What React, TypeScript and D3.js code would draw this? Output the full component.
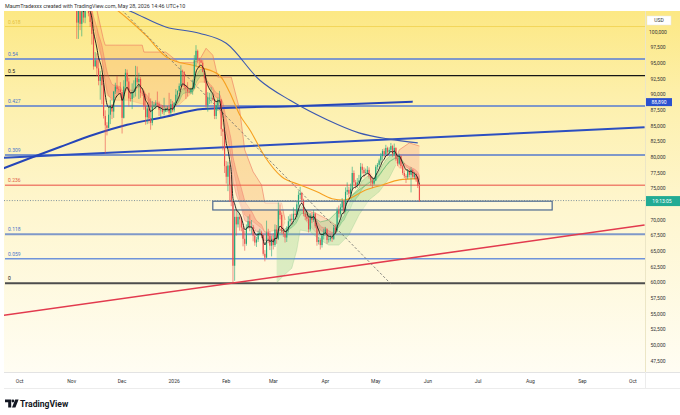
import * as d3 from "d3";

// prices are in thousands of USD
const firstOpen = 110.5;

// daily candles: [high, low, close]; the open is the previous close
const nov: [number, number, number][] = [
  [110.7, 105.3, 106.5], [106.6, 98.9, 101.5], [104.5, 98.9, 103.9], [104.2, 100.3, 101.3], [104.0, 99.3, 103.3],
  [103.4, 101.5, 102.3], [105.0, 101.4, 104.7], [106.6, 104.3, 106.0], [107.5, 102.5, 103.0], [105.3, 100.8, 101.6],
  [104.0, 98.0, 99.7], [99.8, 94.0, 94.5], [96.8, 94.5, 95.5], [96.6, 93.0, 94.2], [96.0, 91.5, 92.2],
  [93.8, 89.2, 92.9], [93.2, 88.5, 91.5], [93.0, 86.2, 86.6], [87.5, 80.6, 85.1], [85.6, 83.5, 84.7],
  [88.0, 84.6, 86.8], [89.2, 85.3, 88.3], [88.5, 86.1, 87.3], [90.6, 86.3, 90.5], [91.9, 90.1, 91.3],
  [93.0, 90.2, 90.9], [91.2, 90.3, 90.8], [92.0, 90.3, 90.4],
];
const dec: [number, number, number][] = [
  [90.4, 83.8, 86.3], [92.3, 86.2, 91.3], [94.1, 91.0, 93.5], [94.0, 91.0, 92.1], [92.7, 88.1, 89.4],
  [90.3, 88.9, 89.3], [91.8, 87.7, 90.4], [92.3, 89.5, 90.6], [94.6, 89.7, 92.7], [94.5, 91.6, 92.0],
  [93.5, 89.3, 92.5], [92.8, 89.5, 90.3], [90.6, 89.8, 90.2], [90.4, 87.6, 88.2], [90.1, 85.2, 86.4],
  [88.2, 85.3, 87.8], [90.3, 85.4, 86.2], [89.4, 84.4, 85.5], [89.0, 85.1, 88.1], [88.6, 87.9, 88.3],
  [89.1, 87.7, 88.6], [90.5, 88.2, 88.5], [88.9, 86.6, 87.6], [88.0, 86.4, 87.6], [88.3, 86.9, 87.2],
  [89.5, 86.7, 87.3], [87.9, 87.2, 87.8], [88.2, 87.3, 87.8], [90.3, 86.8, 87.1], [89.3, 86.8, 88.5],
  [89.0, 87.2, 87.5],
];
const jan: [number, number, number][] = [
  [88.8, 87.2, 88.7], [90.9, 88.3, 90.0], [90.7, 89.3, 90.6], [91.8, 90.5, 91.4], [94.7, 91.3, 93.8],
  [94.0, 91.3, 93.7], [93.6, 90.7, 91.3], [91.5, 89.3, 91.0], [92.0, 89.7, 90.5], [90.8, 90.2, 90.4],
  [91.1, 90.1, 90.8], [92.4, 90.0, 91.1], [96.3, 90.9, 95.5], [97.9, 94.5, 97.0], [97.2, 95.0, 95.6],
  [95.9, 94.3, 95.5], [95.6, 95.0, 95.1], [95.5, 93.6, 93.6], [93.7, 91.9, 92.6], [92.8, 87.9, 88.3],
  [90.4, 87.3, 89.5], [90.3, 88.5, 89.5], [91.2, 88.6, 89.5], [89.9, 89.0, 89.2], [89.3, 86.1, 86.6],
  [88.8, 86.1, 88.3], [89.5, 87.4, 89.2], [90.6, 88.8, 89.2], [89.3, 83.4, 84.5], [84.6, 81.1, 84.1],
  [84.1, 77.5, 78.6],
];
const feb: [number, number, number][] = [
  [79.4, 75.8, 76.9], [79.3, 74.6, 78.7], [79.2, 72.9, 75.6], [76.9, 72.2, 73.0], [73.1, 60.0, 62.7],
  [71.7, 60.3, 70.5], [71.5, 67.5, 69.3], [71.5, 68.8, 70.5], [71.0, 68.3, 70.1], [70.5, 68.2, 68.8],
  [69.4, 65.8, 67.0], [68.3, 65.1, 66.2], [69.3, 65.9, 68.8], [70.6, 68.6, 69.8], [70.9, 68.2, 68.8],
  [70.0, 67.8, 68.9], [69.2, 66.6, 67.5], [68.4, 65.9, 66.4], [67.3, 65.7, 66.9], [68.3, 66.5, 67.9],
  [68.6, 67.5, 68.0], [68.3, 67.1, 67.6], [67.6, 64.3, 64.6], [65.2, 63.4, 64.0], [69.9, 63.9, 68.0],
  [68.6, 66.3, 67.5], [68.2, 65.2, 65.9], [67.5, 64.2, 67.0],
];
const mar: [number, number, number][] = [
  [67.9, 65.3, 66.0], [69.3, 65.7, 68.5], [69.2, 66.2, 67.0], [72.8, 66.8, 71.5], [72.5, 70.1, 70.8],
  [71.2, 67.8, 68.2], [68.8, 67.3, 67.8], [68.4, 66.4, 67.2], [69.0, 66.5, 68.5], [70.6, 68.0, 69.8],
  [70.9, 69.0, 70.2], [71.0, 69.2, 70.0], [72.0, 69.6, 71.0], [71.6, 70.2, 70.8], [72.9, 70.5, 72.5],
  [74.6, 72.1, 74.0], [75.3, 73.3, 74.3], [74.5, 72.6, 73.2], [73.4, 70.6, 71.0], [71.6, 70.0, 70.5],
  [71.0, 69.8, 70.2], [70.5, 68.0, 68.5], [71.1, 68.2, 70.5], [71.2, 69.5, 70.0], [71.6, 69.7, 71.0],
  [71.2, 68.7, 69.0], [69.3, 65.9, 66.5], [67.3, 66.1, 66.8], [67.1, 65.3, 66.0], [67.9, 65.6, 67.5],
  [68.6, 66.9, 68.0],
];
const apr: [number, number, number][] = [
  [68.9, 67.6, 68.5], [68.7, 66.2, 66.8], [67.5, 66.4, 66.9], [67.6, 66.6, 67.2], [67.5, 66.5, 67.0],
  [69.2, 66.8, 68.8], [69.3, 67.8, 68.3], [72.0, 68.1, 71.5], [72.3, 70.4, 71.0], [72.6, 70.7, 72.0],
  [73.5, 71.6, 73.0], [73.2, 71.0, 71.5], [75.2, 71.3, 74.5], [76.0, 74.0, 74.8], [75.3, 73.6, 74.2],
  [75.8, 73.9, 75.0], [78.5, 74.8, 77.5], [77.9, 75.6, 76.0], [76.4, 75.0, 75.5], [76.7, 75.1, 76.0],
  [77.2, 75.7, 76.3], [79.1, 76.1, 78.5], [79.0, 77.4, 78.0], [78.4, 76.8, 77.5], [78.2, 77.2, 77.6],
  [78.6, 77.3, 78.0], [78.4, 76.6, 77.0], [77.4, 75.5, 76.3], [76.9, 75.1, 75.8], [76.8, 75.6, 76.3],
];
const may: [number, number, number][] = [
  [78.8, 76.2, 78.5], [79.1, 78.0, 78.8], [79.8, 78.4, 79.5], [80.7, 79.0, 80.2], [81.3, 79.6, 81.0],
  [81.4, 80.0, 80.5], [82.0, 80.3, 81.5], [81.7, 80.2, 80.8], [81.6, 80.5, 81.2], [82.3, 80.9, 81.8],
  [82.0, 80.1, 80.5], [82.2, 80.3, 81.5], [81.6, 79.4, 79.8], [80.1, 78.6, 79.0], [80.6, 78.8, 80.2],
  [80.3, 78.3, 78.6], [78.8, 77.2, 77.5], [77.9, 76.7, 77.0], [77.3, 75.9, 76.8], [78.1, 76.5, 77.8],
  [78.2, 76.8, 77.2], [78.4, 74.4, 78.0], [78.1, 76.6, 76.9], [77.6, 76.5, 77.3], [77.5, 76.1, 76.5],
  [76.8, 75.1, 75.5], [75.7, 72.9, 73.1],
];
const months: [string, [number, number, number][]][] = [
  ["2025-11-03", nov], ["2025-12-01", dec], ["2026-01-01", jan], ["2026-02-01", feb],
  ["2026-03-01", mar], ["2026-04-01", apr], ["2026-05-01", may],
];

// fib retracement anchors and levels
const fibLow = 59.9;
const fibHigh = 126.2;
const fibLevels = [0.618, 0.54, 0.5, 0.427, 0.309, 0.236, 0.118, 0.059, 0];

// drawn lines: [date, price]
const redTrend: [string, number][] = [["2025-09-19", 54.7], ["2026-10-08", 69.2]];
const blueTrend: [string, number][] = [["2025-09-19", 79.9], ["2026-10-08", 84.8]];
const blueCurve: [string, number][] = [
  ["2025-09-19", 78.0], ["2025-10-09", 80.05], ["2025-10-25", 81.65], ["2025-11-14", 83.6], ["2025-12-04", 85.2],
  ["2025-12-24", 86.3], ["2026-01-18", 87.7], ["2026-03-17", 88.2], ["2026-05-23", 88.89],
];
const dashedTrend: [string, number][] = [["2025-11-25", 105.1], ["2026-05-10", 59.8]];
const slowMa: [string, number][] = [
  ["2025-11-27", 104.3], ["2025-12-07", 103.2], ["2025-12-27", 100.8], ["2026-01-16", 99.8], ["2026-02-01", 98.2],
  ["2026-02-21", 92.3], ["2026-03-11", 89.1], ["2026-04-02", 86.0], ["2026-04-21", 83.9], ["2026-05-09", 82.9],
  ["2026-05-26", 82.3],
];
const midMa: [string, number][] = [
  ["2025-11-24", 104.3], ["2025-11-28", 103.5], ["2025-12-15", 99.5], ["2025-12-28", 95.9], ["2026-01-16", 94.4],
  ["2026-01-28", 93.1], ["2026-02-03", 90.4], ["2026-02-09", 86.8], ["2026-02-15", 84.4], ["2026-02-24", 80.1],
  ["2026-03-06", 76.9], ["2026-03-17", 75.6], ["2026-03-27", 74.5], ["2026-04-05", 73.4], ["2026-04-12", 73.2],
  ["2026-04-25", 74.8], ["2026-05-05", 75.6], ["2026-05-15", 76.4], ["2026-05-26", 76.6],
];

// shaded clouds: [date, top, bottom]
const bearCloud: [string, number, number][] = [
  ["2025-11-16", 103.5, 100.3], ["2025-11-20", 98.7, 93.9], ["2025-11-21", 97.9, 91.5], ["2025-11-22", 97.9, 89.9],
  ["2025-11-27", 97.9, 89.1], ["2025-12-05", 97.9, 89.1], ["2025-12-13", 97.9, 88.5], ["2025-12-14", 96.8, 88.5],
  ["2025-12-17", 96.8, 88.2], ["2025-12-27", 96.8, 87.9], ["2026-01-04", 95.1, 88.4], ["2026-01-12", 95.1, 90.4],
  ["2026-01-16", 95.5, 92.0], ["2026-01-20", 97.4, 92.0], ["2026-01-24", 96.3, 89.9], ["2026-01-27", 92.8, 88.4],
  ["2026-02-04", 92.8, 79.6], ["2026-02-09", 87.6, 73.2], ["2026-02-12", 81.2, 70.8], ["2026-02-17", 77.7, 69.7],
  ["2026-02-22", 75.6, 68.7], ["2026-02-24", 72.7, 68.1], ["2026-03-06", 72.7, 68.4], ["2026-03-08", 70.0, 69.7],
];
const bearCloudMar: [string, number, number][] = [
  ["2026-03-20", 71.6, 70.0], ["2026-03-26", 71.1, 68.1], ["2026-04-03", 70.0, 67.3], ["2026-04-08", 69.0, 68.4],
];
const bearCloudMay: [string, number, number][] = [
  ["2026-05-13", 79.6, 79.3], ["2026-05-15", 81.2, 78.3], ["2026-05-21", 82.3, 77.7], ["2026-05-27", 81.8, 75.6],
];
const bullCloud: [string, number, number][] = [
  ["2026-03-03", 67.6, 59.95], ["2026-03-07", 68.4, 61.1], ["2026-03-12", 69.2, 62.3], ["2026-03-15", 70.8, 65.2],
  ["2026-03-17", 72.4, 68.4], ["2026-03-23", 70.8, 68.1], ["2026-03-29", 69.7, 66.8], ["2026-04-03", 70.0, 66.0],
  ["2026-04-09", 71.6, 66.0], ["2026-04-15", 73.5, 67.6], ["2026-04-21", 74.8, 70.8], ["2026-04-27", 75.9, 73.2],
  ["2026-05-03", 77.2, 74.5], ["2026-05-09", 79.3, 76.7], ["2026-05-13", 79.9, 78.8],
];

// rectangle drawing
const zone = { start: "2026-01-24", end: "2026-08-14", top: 73.0, bottom: 71.6 };

const priceTicks = d3.range(47.5, 100.01, 2.5);
const monthTicks: [string, string][] = [
  ["2025-10-01", "Oct"], ["2025-11-01", "Nov"], ["2025-12-01", "Dec"], ["2026-01-01", "2026"], ["2026-02-01", "Feb"],
  ["2026-03-01", "Mar"], ["2026-04-01", "Apr"], ["2026-05-01", "May"], ["2026-06-01", "Jun"], ["2026-07-01", "Jul"],
  ["2026-08-01", "Aug"], ["2026-09-01", "Sep"], ["2026-10-01", "Oct"],
];
const blueLineLabel = "88,890";
const countdown = "19:13:05";

const fibStyle: Record<string, { stroke: string; width: number; label: string }> = {
  "0.618": { stroke: "#f3d65a", width: 1, label: "#e3bf3a" },
  "0.54": { stroke: "#7f98c9", width: 2, label: "#4a74c9" },
  "0.5": { stroke: "#151515", width: 1.2, label: "#151515" },
  "0.427": { stroke: "#7f98c9", width: 2, label: "#4a74c9" },
  "0.309": { stroke: "#7f98c9", width: 2, label: "#4a74c9" },
  "0.236": { stroke: "#f0846f", width: 1.4, label: "#e0604a" },
  "0.118": { stroke: "#7f98c9", width: 2, label: "#4a74c9" },
  "0.059": { stroke: "#6f93da", width: 1.5, label: "#4a74c9" },
  "0": { stroke: "#4d4d4d", width: 2, label: "#151515" },
};

const parse = (s: string) => new Date(s + "T00:00:00Z");

function ema(values: number[], period: number) {
  const k = 2 / (period + 1);
  const out: number[] = [];
  values.forEach((v, i) => out.push(i === 0 ? v : out[i - 1] + k * (v - out[i - 1])));
  return out;
}

export default function App() {
  const W = 680;
  const H = 415;
  const plot = { left: 4, right: 645, top: 11, bottom: 372 };
  const font = "Roboto, 'Open Sans', sans-serif";

  const x = d3.scaleUtc().domain([parse("2025-10-01"), parse("2026-10-01")]).range([19.6, 632.8]);
  const y = d3.scaleLinear().domain([47.5, 100]).range([361, 32]);

  const candles: { date: Date; open: number; high: number; low: number; close: number }[] = [];
  let prev = firstOpen;
  months.forEach(([start, rows]) => {
    const t0 = parse(start);
    rows.forEach(([high, low, close], i) => {
      candles.push({ date: d3.utcDay.offset(t0, i), open: prev, high, low, close });
      prev = close;
    });
  });
  const closes = candles.map((c) => c.close);
  const fast = ema(closes, 6);
  const rFast = ema(closes, 9);
  const rSlow = ema(closes, 15);
  const last = candles[candles.length - 1];

  const line = d3.line<[string, number]>().x((d) => x(parse(d[0]))).y((d) => y(d[1]));
  const curve = d3.line<[string, number]>().x((d) => x(parse(d[0]))).y((d) => y(d[1])).curve(d3.curveMonotoneX);
  const cloudArea = d3.area<[string, number, number]>().x((d) => x(parse(d[0]))).y0((d) => y(d[2])).y1((d) => y(d[1]));
  const cloudTop = d3.line<[string, number, number]>().x((d) => x(parse(d[0]))).y((d) => y(d[1]));
  const cloudBottom = d3.line<[string, number, number]>().x((d) => x(parse(d[0]))).y((d) => y(d[2]));

  const fastLine = d3.line<number>().x((_, i) => x(candles[i].date)).y((d) => y(d)).curve(d3.curveMonotoneX);

  // ema ribbon runs, coloured by which average is on top
  const runs: { from: number; to: number; up: boolean }[] = [];
  let s = 0;
  for (let i = 1; i <= candles.length; i++) {
    const upS = rFast[s] >= rSlow[s];
    if (i === candles.length || rFast[i] >= rSlow[i] !== upS) {
      runs.push({ from: s, to: Math.min(i, candles.length - 1), up: upS });
      s = i;
    }
  }
  const ribbon = d3.area<number>().x((i) => x(candles[i].date)).y0((i) => y(rSlow[i])).y1((i) => y(rFast[i])).curve(d3.curveMonotoneX);

  const bw = 1.15;
  const up = "#22a67a";
  const down = "#eb4d4b";
  const fmt = d3.format(",");
  const lastY = y(last.close);
  const blueEndY = y(blueCurve[blueCurve.length - 1][1]);

  const drawCloud = (data: [string, number, number][], fill: string, stroke: string, key: string) => (
    <g key={key}>
      <path d={cloudArea(data) ?? ""} fill={fill} />
      <path d={cloudTop(data) ?? ""} fill="none" stroke={stroke} strokeWidth={0.8} />
      <path d={cloudBottom(data) ?? ""} fill="none" stroke={stroke} strokeWidth={0.5} opacity={0.6} />
    </g>
  );

  return (
    <svg width={W} height={H} viewBox={`0 0 ${W} ${H}`} style={{ position: "absolute", left: 0, top: 0, fontFamily: font }}>
      <defs>
        <linearGradient id="bg" x1="0" y1={plot.top} x2="0" y2={plot.bottom} gradientUnits="userSpaceOnUse">
          <stop offset="0" stopColor="#fce884" />
          <stop offset="0.25" stopColor="#fdf0ad" />
          <stop offset="0.55" stopColor="#fef6cf" />
          <stop offset="1" stopColor="#fffdf3" />
        </linearGradient>
        <clipPath id="plot">
          <rect x={plot.left} y={plot.top} width={plot.right - plot.left} height={plot.bottom - plot.top} />
        </clipPath>
      </defs>
      <rect width={W} height={H} fill="#ffffff" />
      <rect x={plot.left} y={plot.top} width={W - plot.left} height={plot.bottom - plot.top} fill="url(#bg)" />

      <g clipPath="url(#plot)">
        {fibLevels.map((lv) => {
          const st = fibStyle[String(lv)];
          const yy = y(fibLow + lv * (fibHigh - fibLow));
          return <line key={lv} x1={plot.left + 1} x2={plot.right} y1={yy} y2={yy} stroke={st.stroke} strokeWidth={st.width} />;
        })}

        {drawCloud(bearCloud, "rgba(248,150,70,0.26)", "rgba(236,110,90,0.7)", "bc")}
        {drawCloud(bearCloudMar, "rgba(245,120,100,0.22)", "rgba(236,110,90,0.55)", "bm")}
        {drawCloud(bearCloudMay, "rgba(245,120,100,0.22)", "rgba(236,110,90,0.7)", "by")}
        {drawCloud(bullCloud, "rgba(120,200,120,0.26)", "rgba(90,180,110,0.7)", "gc")}

        {runs.map((r) => {
          const idx = d3.range(r.from, r.to + 1);
          return (
            <path key={r.from} d={ribbon(idx) ?? ""} fill={r.up ? "rgba(90,190,110,0.28)" : "rgba(240,90,90,0.26)"}
              stroke={r.up ? "rgba(70,170,100,0.55)" : "rgba(230,80,80,0.55)"} strokeWidth={0.6} />
          );
        })}

        <rect x={x(parse(zone.start))} y={y(zone.top)} width={x(parse(zone.end)) - x(parse(zone.start))}
          height={y(zone.bottom) - y(zone.top)} fill="rgba(255,253,235,0.45)" stroke="#4c6990" strokeWidth={1.2} />

        <path d={line(redTrend) ?? ""} fill="none" stroke="#e23a4e" strokeWidth={1.6} />
        <path d={line(blueTrend) ?? ""} fill="none" stroke="#2c4fc0" strokeWidth={2} />
        <path d={curve(blueCurve) ?? ""} fill="none" stroke="#2545b8" strokeWidth={2} />
        <path d={curve(slowMa) ?? ""} fill="none" stroke="#3b58b0" strokeWidth={1.1} />
        <path d={curve(midMa) ?? ""} fill="none" stroke="#f6a020" strokeWidth={1.1} />
        <path d={line(dashedTrend) ?? ""} fill="none" stroke="#6b6b6b" strokeWidth={0.8} strokeDasharray="2.5,2" />

        {candles.map((c) => {
          const cx = x(c.date);
          const col = c.close >= c.open ? up : down;
          const top = y(Math.max(c.open, c.close));
          const bot = y(Math.min(c.open, c.close));
          return (
            <g key={+c.date}>
              <line x1={cx} x2={cx} y1={y(c.high)} y2={y(c.low)} stroke={col} strokeWidth={0.6} />
              <rect x={cx - bw / 2} y={top} width={bw} height={Math.max(0.6, bot - top)} fill={col} />
            </g>
          );
        })}

        <path d={fastLine(fast) ?? ""} fill="none" stroke="#111111" strokeWidth={0.9} />

        <line x1={plot.left} x2={plot.right} y1={lastY} y2={lastY} stroke="#5f7890" strokeWidth={0.8} strokeDasharray="1,1.6" />

        {fibLevels.map((lv) => {
          const st = fibStyle[String(lv)];
          const yy = y(fibLow + lv * (fibHigh - fibLow));
          return (
            <text key={`t${lv}`} x={8} y={yy - 3} fontSize={5} fill={st.label}>{String(lv)}</text>
          );
        })}
      </g>

      {/* price axis */}
      <line x1={plot.right + 0.5} x2={plot.right + 0.5} y1={plot.top} y2={plot.bottom} stroke="#ece6c6" />
      {priceTicks
        .filter((t) => Math.abs(y(t) - lastY) > 6)
        .map((t) => (
          <text key={t} x={658} y={y(t) + 1.8} fontSize={5} fill="#333" textAnchor="middle">{fmt(Math.round(t * 1000))}</text>
        ))}
      <rect x={647} y={16} width={24} height={9} fill="#ffffff" stroke="#e6e6e6" strokeWidth={0.5} />
      <text x={659} y={22.3} fontSize={5} fill="#333" textAnchor="middle">USD</text>
      <rect x={646} y={blueEndY - 3.5} width={26} height={8} fill="#2b50cf" />
      <text x={659} y={blueEndY + 2.2} fontSize={5} fill="#fff" textAnchor="middle">{blueLineLabel}</text>
      <rect x={646} y={lastY - 4.5} width={34} height={10} fill="#22ab94" />
      <text x={662} y={lastY + 2.2} fontSize={5} fill="#fff" textAnchor="middle">{countdown}</text>

      {/* time axis */}
      <rect x={0} y={plot.bottom} width={W} height={16} fill="#ffffff" />
      <line x1={plot.left} x2={W} y1={plot.bottom + 0.5} y2={plot.bottom + 0.5} stroke="#e3e3e3" />
      <line x1={plot.left} x2={W} y1={plot.bottom + 16.5} y2={plot.bottom + 16.5} stroke="#ececec" />
      <line x1={plot.right + 0.5} x2={plot.right + 0.5} y1={plot.bottom} y2={plot.bottom + 16} stroke="#ececec" />
      {monthTicks.map(([d, label]) => (
        <text key={d} x={x(parse(d))} y={382.5} fontSize={5} fill="#333" textAnchor="middle">{label}</text>
      ))}

      {/* header and logo */}
      <text x={5} y={7.5} fontSize={5.4} fill="#333">MaumTradexxx created with TradingView.com, May 28, 2026 14:46 UTC+10</text>
      <g fill="#131722">
        <path d="M5 399.5 h6.2 v8 h-3 v-5.2 h-3.2 z" />
        <circle cx={12.9} cy={401} r={1.4} />
        <path d="M15.2 399.5 h3.4 l-3.2 8 h-3.4 z" />
        <text x={20} y={407.3} fontSize={8.6} fontWeight={700}>TradingView</text>
      </g>
    </svg>
  );
}
